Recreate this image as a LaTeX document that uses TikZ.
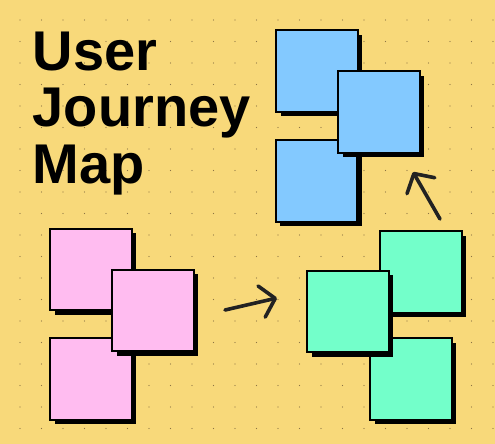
\documentclass[tikz,border=0pt]{standalone}
\usepackage{fontspec}
\setmainfont{Liberation Sans}
\usetikzlibrary{shadows,arrows.meta}
\definecolor{board}{HTML}{F8D97A}
\definecolor{skyblue}{HTML}{83C9FF}
\definecolor{candy}{HTML}{FFBCF0}
\definecolor{mint}{HTML}{73FFCA}
\definecolor{ink}{HTML}{222222}
\definecolor{dotgrey}{HTML}{8C7444}

\begin{document}
\begin{tikzpicture}[x=1pt,y=-1pt,
    card/.style={draw,line width=2pt,minimum size=81.5pt,inner sep=0pt,
      drop shadow={shadow xshift=4.5pt,shadow yshift=-4.5pt,fill=black,opacity=1}},
    scribble/.style={ink,line width=3.6pt,line cap=round,line join=round,
      -{Straight Barb[length=14pt,width=32pt,round]}}]
    \fill[board] (0,0) rectangle (495,444);
    \useasboundingbox (0,0) rectangle (495,444);
    % dotted grid
    \foreach \i in {0,...,22}
      \foreach \j in {0,...,19}
        \fill[dotgrey] (20+21.5*\i,20+21.5*\j) circle (0.7);
    \node[anchor=base west,align=left,inner sep=0pt,
      font=\fontsize{56}{56.5}\selectfont\bfseries] (title) at (32.5,183) {User\\Journey\\Map};
    \node[card,fill=skyblue] (blueA) at (317,71) {};
    \node[card,fill=skyblue] (blueC) at (316.5,181) {};
    \node[card,fill=skyblue] (blueB) at (379,112) {};
    \node[card,fill=candy] (pinkA) at (91,269.5) {};
    \node[card,fill=candy] (pinkC) at (91,379) {};
    \node[card,fill=candy] (pinkB) at (153,310.5) {};
    \node[card,fill=mint] (mintA) at (421,272) {};
    \node[card,fill=mint] (mintC) at (411,379) {};
    \node[card,fill=mint] (mintB) at (348,311.5) {};
    \coordinate (fromPink) at (225,310);
    \coordinate (toMint) at (277,298);
    \coordinate (fromMint) at (440,219);
    \coordinate (toBlue) at (413,172);
    \draw[scribble] (fromPink) -- (toMint);
    \draw[scribble] (fromMint) -- (toBlue);
  \end{tikzpicture}
\end{document}
